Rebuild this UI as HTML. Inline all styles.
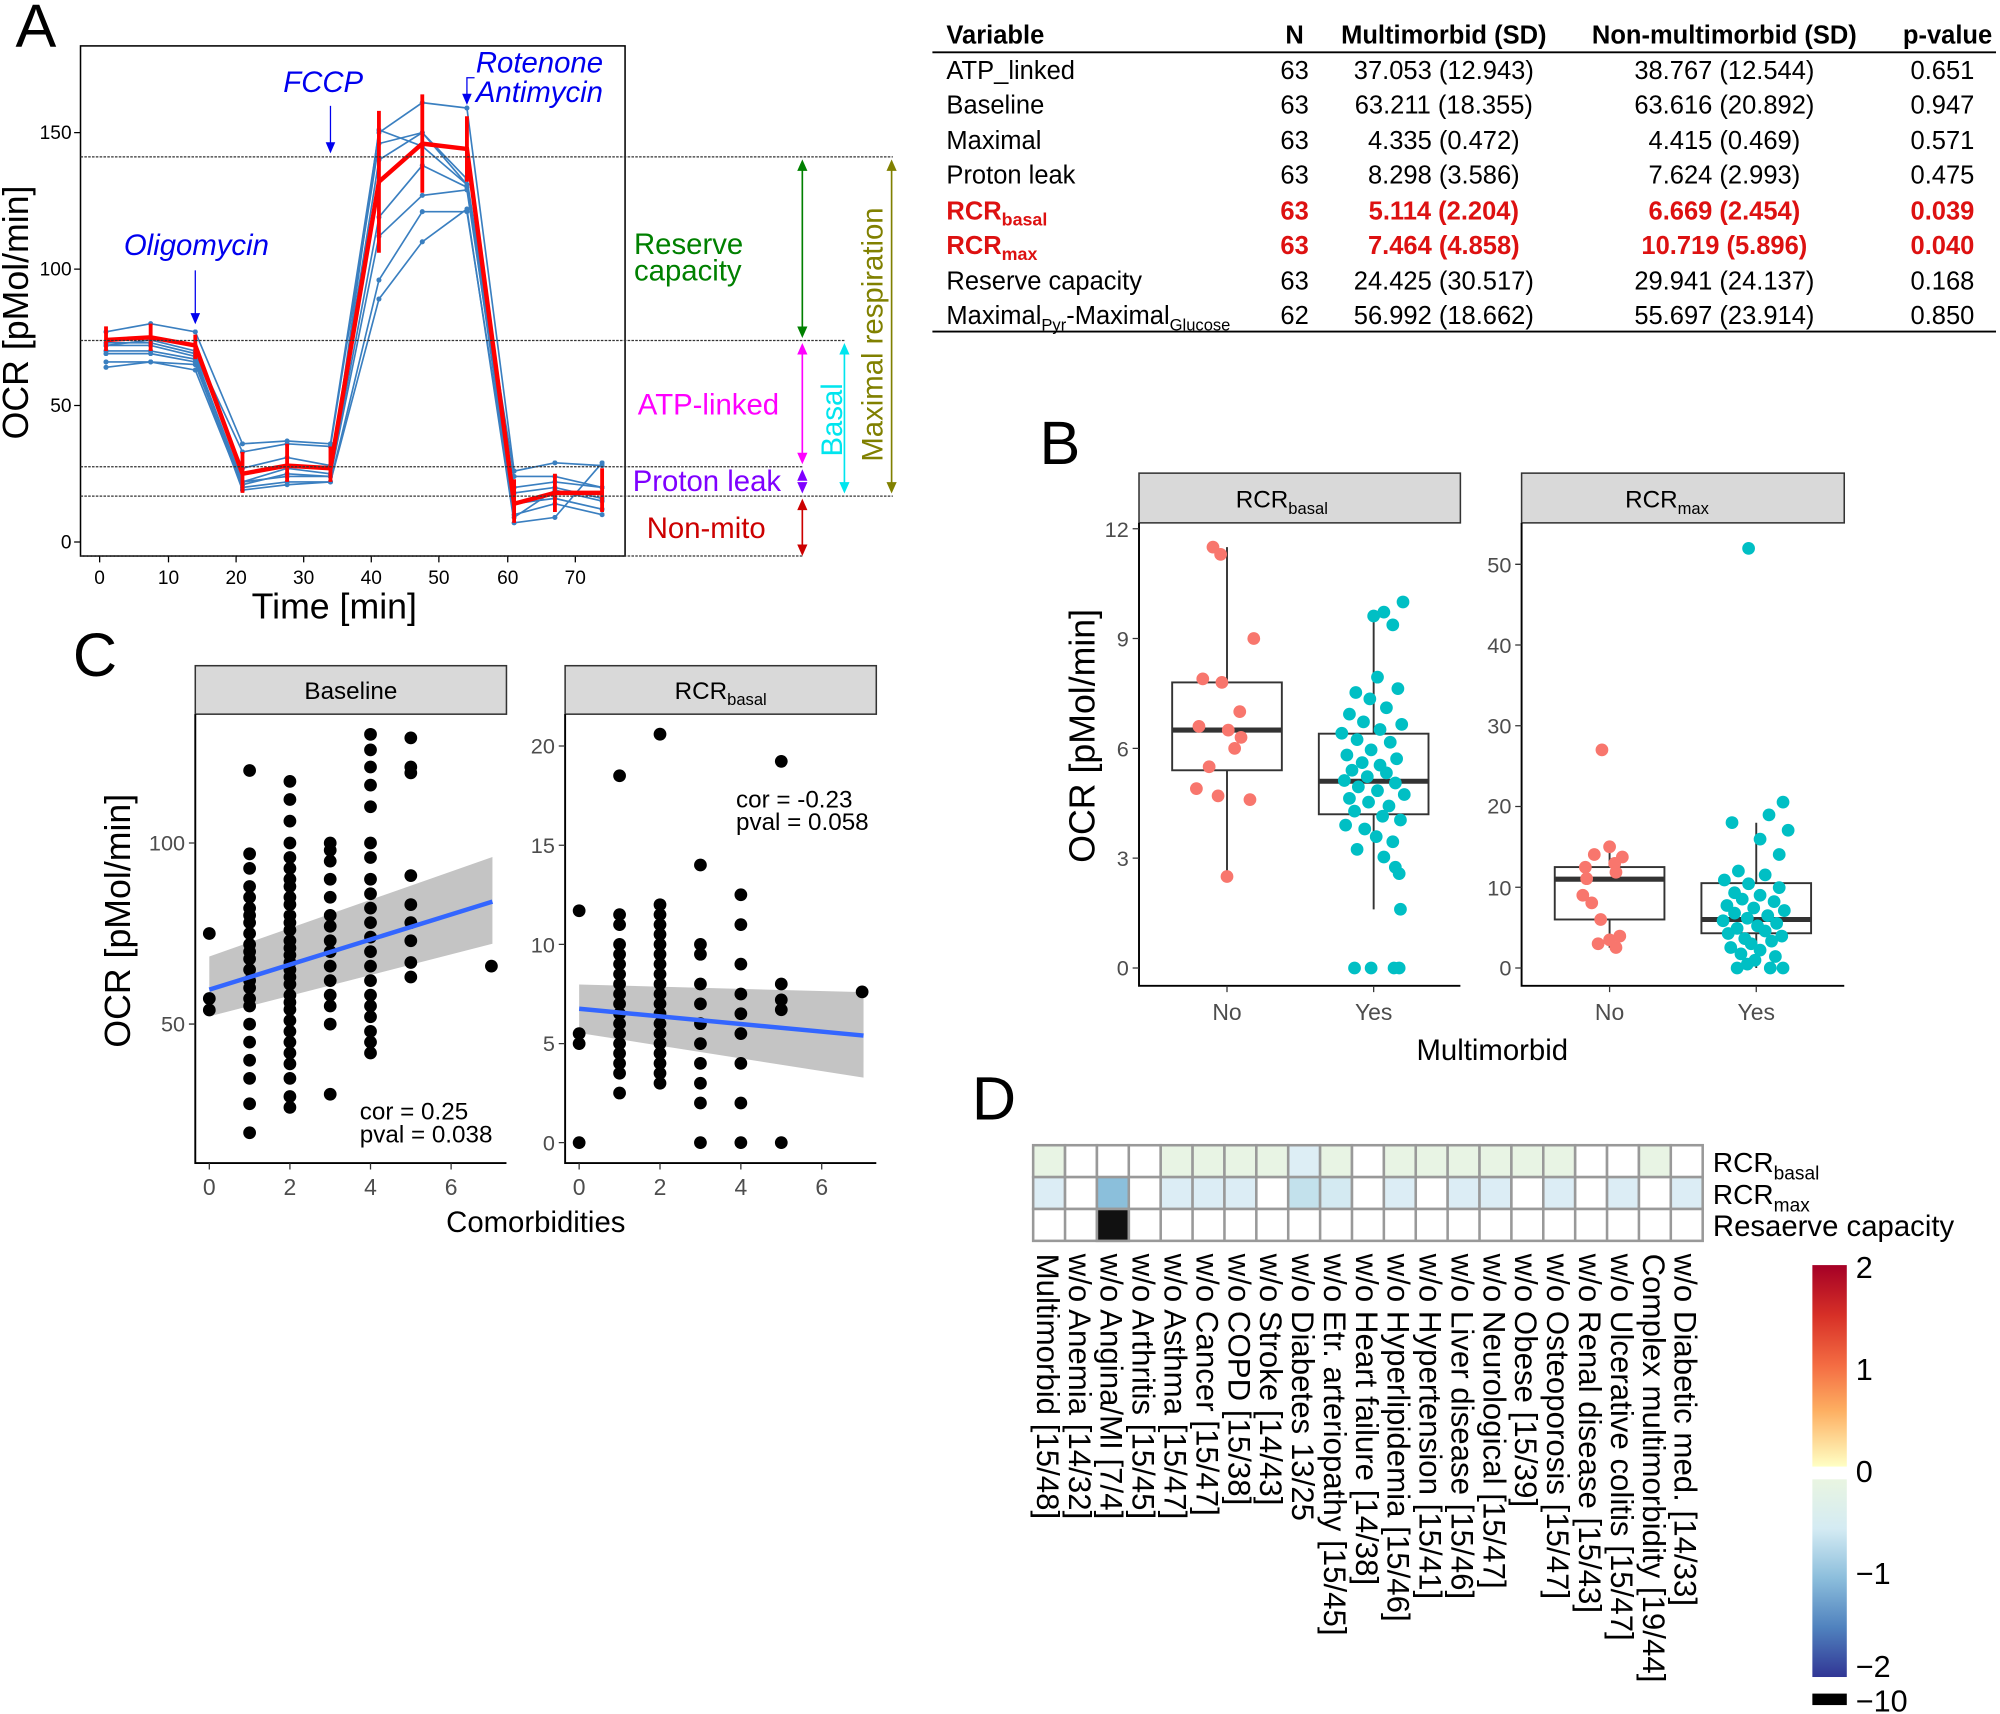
<!DOCTYPE html>
<html><head><meta charset="utf-8"><style>
html,body{margin:0;padding:0;background:#fff}
svg{display:block;font-family:"Liberation Sans","DejaVu Sans",sans-serif}
</style></head><body>
<svg width="2000" height="1714" viewBox="0 0 1568 1344" xmlns="http://www.w3.org/2000/svg">
<defs>
<marker id="dot" viewBox="0 0 4 4" refX="2" refY="2" markerWidth="4" markerHeight="4" markerUnits="userSpaceOnUse"><circle cx="2" cy="2" r="2" fill="#3a7fc0"/></marker>
<linearGradient id="gw" x1="0" y1="0" x2="0" y2="1"><stop offset="0" stop-color="#a50026"/><stop offset="0.25" stop-color="#d73027"/><stop offset="0.5" stop-color="#f46d43"/><stop offset="0.72" stop-color="#fdae61"/><stop offset="1" stop-color="#ffffc4"/></linearGradient>
<linearGradient id="gc" x1="0" y1="0" x2="0" y2="1"><stop offset="0" stop-color="#e9f5e1"/><stop offset="0.25" stop-color="#d4ebf3"/><stop offset="0.5" stop-color="#8cbedc"/><stop offset="0.75" stop-color="#5082be"/><stop offset="1" stop-color="#313695"/></linearGradient>
</defs>
<rect width="1568" height="1344" fill="#fff"/>
<!-- Panel A -->
<text x="12" y="37" font-size="48">A</text>
<g fill="none" stroke="#3a7fc0" stroke-width="1.3" marker-start="url(#dot)" marker-mid="url(#dot)" marker-end="url(#dot)">
<polyline points="83,260.2 118,253.8 153,260.2 190,348 225,345.8 259,348 297,104 331,80.5 366,84.7 403,369.4 435,362.9 472,365.1"/>
<polyline points="83,270.9 118,266.6 153,275.2 190,354.4 225,348 259,350.1 297,112.6 331,104 366,140.4 403,373.6 435,373.6 472,382.2"/>
<polyline points="83,268.8 118,268.8 153,277.3 190,367.2 225,358.7 259,365.1 297,125.4 331,104 366,144.7 403,382.2 435,377.9 472,382.2"/>
<polyline points="83,275.2 118,275.2 153,281.6 190,377.9 225,367.2 259,371.5 297,170.3 331,129.7 366,146.8 403,386.5 435,382.2 472,390.8"/>
<polyline points="83,283.8 118,283.8 153,285.9 190,380.1 225,371.5 259,373.6 297,185.3 331,153.2 366,148.9 403,395 435,390.8 472,399.3"/>
<polyline points="83,288 118,283.8 153,290.2 190,382.2 225,377.9 259,377.9 297,219.6 331,166 366,166 403,403.6 435,395 472,403.6"/>
<polyline points="83,277.3 118,277.3 153,283.8 190,384.3 225,380.1 259,377.9 297,234.5 331,189.6 366,163.9 403,410 435,405.7 472,362.9"/>
<polyline points="83,270.9 118,270.9 153,279.5 190,377.9 225,373.6 259,373.6 297,101.9 331,114.7 366,144.7 403,405.7 435,384.3 472,392.9"/>
</g>
<polyline fill="none" stroke="#ff0000" stroke-width="3.5" points="83,266.6 118,264.5 153,270.9 190,371.5 225,365.1 259,367.2 297,142.5 331,112.6 366,116.8 403,395 435,386.5 472,386.5"/>
<path stroke="#ff0000" stroke-width="3" d="M83,275.2V255.9M118,275.2V253.8M153,281.6V262.4M190,386.5V354.4M225,377.9V348M259,377.9V350.1M297,198.2V86.9M331,151.1V74M366,142.5V91.2M403,410V375.8M435,401.5V371.5M472,401.5V367.2"/>
<rect x="63" y="36" width="427" height="400" fill="none" stroke="#000" stroke-width="1.2"/>
<path stroke="#000" d="M58,425h5M58,318h5M58,211h5M58,104h5M78,436v5M132,436v5M185,436v5M238,436v5M291,436v5M344,436v5M398,436v5M451,436v5"/>
<g font-size="15" text-anchor="end">
<text x="56" y="430">0</text><text x="56" y="323">50</text><text x="56" y="216">100</text><text x="56" y="109">150</text></g>
<g font-size="15" text-anchor="middle">
<text x="78" y="458">0</text><text x="132" y="458">10</text><text x="185" y="458">20</text><text x="238" y="458">30</text><text x="291" y="458">40</text><text x="344" y="458">50</text><text x="398" y="458">60</text><text x="451" y="458">70</text></g>
<text x="262" y="485" font-size="28" text-anchor="middle">Time [min]</text>
<text transform="translate(22,245) rotate(-90)" font-size="28" text-anchor="middle">OCR [pMol/min]</text>
<g fill="#0000ee" font-style="italic" font-size="23">
<text x="97" y="200">Oligomycin</text><text x="222" y="72">FCCP</text>
<text x="373" y="57">Rotenone</text><text x="373" y="80">Antimycin</text></g>
<g stroke="#0000ee" stroke-width="1" fill="#0000ee">
<line x1="153" y1="212" x2="153" y2="248"/><path d="M150,246 L153,253 L156,246Z"/>
<line x1="259" y1="83" x2="259" y2="114"/><path d="M256,112 L259,119 L262,112Z"/>
<polyline points="372,61 366,61 366,76" fill="none"/><path d="M363,74 L366,81 L369,74Z"/></g>
<g stroke="#333" stroke-dasharray="2,1" stroke-width="1">
<line x1="63" y1="123" x2="700" y2="123"/><line x1="63" y1="267" x2="663" y2="267"/>
<line x1="63" y1="366" x2="630" y2="366"/><line x1="63" y1="389" x2="700" y2="389"/><line x1="63" y1="436" x2="630" y2="436"/></g>
<g font-size="23">
<text x="497" y="199" fill="#008000">Reserve</text><text x="497" y="220" fill="#008000">capacity</text>
<text x="500" y="325" fill="#ff00ff">ATP-linked</text>
<text x="496" y="385" fill="#7f00ff">Proton leak</text>
<text x="507" y="422" fill="#cc0000">Non-mito</text>
<text transform="translate(660,358) rotate(-90)" fill="#00e5ee">Basal</text>
<text transform="translate(692,362) rotate(-90)" fill="#808000">Maximal respiration</text></g>
<g stroke-width="1.3">
<path d="M629,129V261" stroke="#008000"/><path d="M625,134L629,125L633,134ZM625,256L629,265L633,256Z" fill="#008000"/>
<path d="M629,273V360" stroke="#ff00ff"/><path d="M625,278L629,269L633,278ZM625,355L629,364L633,355Z" fill="#ff00ff"/>
<path d="M625,377L629,368L633,377ZM625,378L629,387L633,378Z" fill="#7f00ff"/>
<path d="M629,395V430" stroke="#cc0000"/><path d="M625,400L629,391L633,400ZM625,427L629,436L633,427Z" fill="#cc0000"/>
<path d="M662,273V383" stroke="#00e5ee"/><path d="M658,278L662,269L666,278ZM658,378L662,387L666,378Z" fill="#00e5ee"/>
<path d="M699,129V383" stroke="#808000"/><path d="M695,134L699,125L703,134ZM695,378L699,387L703,378Z" fill="#808000"/>
</g>
<!-- Table -->
<g font-size="20">
<line x1="731" y1="41" x2="1565" y2="41" stroke="#000" stroke-width="1.5"/>
<line x1="731" y1="260" x2="1565" y2="260" stroke="#000" stroke-width="1.5"/>
<g font-weight="bold"><text x="742" y="34">Variable</text><text x="1015" y="34" text-anchor="middle">N</text>
<text x="1132" y="34" text-anchor="middle">Multimorbid (SD)</text><text x="1352" y="34" text-anchor="middle">Non-multimorbid (SD)</text><text x="1562" y="34" text-anchor="end">p-value</text></g>
<text x="742" y="62">ATP_linked</text><text x="742" y="89">Baseline</text><text x="742" y="117">Maximal</text><text x="742" y="144">Proton leak</text>
<text x="742" y="172" fill="#dd1111" font-weight="bold">RCR<tspan font-size="14" dy="5">basal</tspan></text>
<text x="742" y="199" fill="#dd1111" font-weight="bold">RCR<tspan font-size="14" dy="5">max</tspan></text>
<text x="742" y="227">Reserve capacity</text>
<text x="742" y="254">Maximal<tspan font-size="13" dy="5">Pyr</tspan><tspan dy="-5">-Maximal</tspan><tspan font-size="13" dy="5">Glucose</tspan></text>
<g text-anchor="middle">
<text x="1015" y="62">63</text><text x="1015" y="89">63</text><text x="1015" y="117">63</text><text x="1015" y="144">63</text><text x="1015" y="172" fill="#dd1111" font-weight="bold">63</text><text x="1015" y="199" fill="#dd1111" font-weight="bold">63</text><text x="1015" y="227">63</text><text x="1015" y="254">62</text>
<text x="1132" y="62">37.053 (12.943)</text><text x="1132" y="89">63.211 (18.355)</text><text x="1132" y="117">4.335 (0.472)</text><text x="1132" y="144">8.298 (3.586)</text><text x="1132" y="172" fill="#dd1111" font-weight="bold">5.114 (2.204)</text><text x="1132" y="199" fill="#dd1111" font-weight="bold">7.464 (4.858)</text><text x="1132" y="227">24.425 (30.517)</text><text x="1132" y="254">56.992 (18.662)</text>
<text x="1352" y="62">38.767 (12.544)</text><text x="1352" y="89">63.616 (20.892)</text><text x="1352" y="117">4.415 (0.469)</text><text x="1352" y="144">7.624 (2.993)</text><text x="1352" y="172" fill="#dd1111" font-weight="bold">6.669 (2.454)</text><text x="1352" y="199" fill="#dd1111" font-weight="bold">10.719 (5.896)</text><text x="1352" y="227">29.941 (24.137)</text><text x="1352" y="254">55.697 (23.914)</text>
</g>
<g text-anchor="end">
<text x="1548" y="62">0.651</text><text x="1548" y="89">0.947</text><text x="1548" y="117">0.571</text><text x="1548" y="144">0.475</text><text x="1548" y="172" fill="#dd1111" font-weight="bold">0.039</text><text x="1548" y="199" fill="#dd1111" font-weight="bold">0.040</text><text x="1548" y="227">0.168</text><text x="1548" y="254">0.850</text>
</g></g>
<!-- Panel B -->
<text x="815" y="364" font-size="48">B</text>
<rect x="893" y="371" width="252" height="39" fill="#d9d9d9" stroke="#333" stroke-width="1.2"/>
<rect x="1193" y="371" width="253" height="39" fill="#d9d9d9" stroke="#333" stroke-width="1.2"/>
<text x="1005" y="398" text-anchor="middle" font-size="19">RCR<tspan font-size="13" dy="5">basal</tspan></text>
<text x="1307" y="398" text-anchor="middle" font-size="19">RCR<tspan font-size="13" dy="5">max</tspan></text>
<path stroke="#000" stroke-width="1.5" fill="none" d="M893,410V773H1145M1193,410V773H1446"/>
<path stroke="#333" d="M888,759h5M888,672.9h5M888,586.8h5M888,500.7h5M888,414.6h5M1188,759h5M1188,695.7h5M1188,632.4h5M1188,569.1h5M1188,505.8h5M1188,442.5h5M962,773v5M1077,773v5M1262,773v5M1377,773v5"/>
<g font-size="17" fill="#4d4d4d" text-anchor="end">
<text x="885" y="765">0</text><text x="885" y="679">3</text><text x="885" y="593">6</text><text x="885" y="507">9</text><text x="885" y="421">12</text>
<text x="1185" y="765">0</text><text x="1185" y="702">10</text><text x="1185" y="638">20</text><text x="1185" y="575">30</text><text x="1185" y="512">40</text><text x="1185" y="449">50</text></g>
<g font-size="18" fill="#4d4d4d" text-anchor="middle"><text x="962" y="800">No</text><text x="1077" y="800">Yes</text><text x="1262" y="800">No</text><text x="1377" y="800">Yes</text></g>
<text x="1170" y="831" text-anchor="middle" font-size="23">Multimorbid</text>
<text transform="translate(858,577) rotate(-90)" text-anchor="middle" font-size="28">OCR [pMol/min]</text>
<g stroke="#333" stroke-width="1.5" fill="#fff">
<path d="M962,429V687.3M1077,480.6V713.1M1262,664V743.2M1377,645.1V759"/>
<rect x="919" y="535.1" width="86" height="68.9"/><rect x="1034" y="575.3" width="86" height="63.2"/>
<rect x="1219" y="679.9" width="86" height="41.1"/><rect x="1334" y="692.5" width="86" height="39.3"/>
<path stroke-width="4" d="M919,572.5h86M1034,612.6h86M1219,689.4h86M1334,721h86"/></g>
<path stroke="#f8766d" stroke-width="10" stroke-linecap="round" d="M951,429h0M957,434.7h0M983,500.7h0M943,532.3h0M958,535.1h0M972,558h0M940,569.6h0M963,572.5h0M973,578.2h0M968,586.8h0M948,601.2h0M938,618.4h0M955,624.1h0M980,627h0M962,687.3h0
M1256,588h0M1262,664h0M1250,670h0M1272,672h0M1266,677h0M1243,680h0M1244,689h0M1267,684h0M1241,702h0M1248,708h0M1255,721h0M1270,734h0M1262,737h0M1253,740h0M1267,743h0"/>
<path stroke="#00bfc4" stroke-width="10" stroke-linecap="round" d="M1100,472h0M1085,480h0M1077,483h0M1092,490h0M1080,531h0M1096,540h0M1063,543h0M1074,548h0M1087,555h0M1058,560h0M1069,566h0M1099,568h0M1082,572h0M1052,575h0M1064,580h0M1090,582h0M1075,588h0M1056,592h0M1095,595h0M1068,598h0M1082,600h0M1060,604h0M1087,606h0M1072,609h0M1054,612h0M1094,614h0M1065,617h0M1080,620h0M1101,623h0M1058,626h0M1073,629h0M1089,632h0M1062,636h0M1084,640h0M1098,643h0M1055,647h0M1070,650h0M1079,656h0M1092,660h0M1064,666h0M1085,672h0M1094,680h0M1097,685h0M1098,713h0M1062,759h0M1075,759h0M1093,759h0M1097,759h0
M1371,430h0M1398,629h0M1387,639h0M1358,645h0M1402,651h0M1380,658h0M1395,670h0M1363,683h0M1384,686h0M1352,690h0M1371,693h0M1395,696h0M1360,700h0M1380,702h0M1366,705h0M1391,707h0M1354,710h0M1375,712h0M1399,714h0M1360,716h0M1386,718h0M1370,720h0M1351,722h0M1393,724h0M1378,726h0M1362,728h0M1384,730h0M1355,732h0M1397,734h0M1368,736h0M1389,738h0M1373,740h0M1357,743h0M1380,745h0M1365,748h0M1392,750h0M1376,753h0M1362,759h0M1388,759h0M1398,759h0M1370,756h0"/>
<!-- Panel C -->
<text x="57" y="530" font-size="48">C</text>
<rect x="153" y="522" width="244" height="38" fill="#d9d9d9" stroke="#333" stroke-width="1.2"/>
<rect x="443" y="522" width="244" height="38" fill="#d9d9d9" stroke="#333" stroke-width="1.2"/>
<text x="275" y="548" text-anchor="middle" font-size="19">Baseline</text>
<text x="565" y="548" text-anchor="middle" font-size="19">RCR<tspan font-size="13" dy="5">basal</tspan></text>
<path d="M164,750 L386,672 L386,740 L164,797Z" fill="#c4c4c4"/>
<path d="M454,772 L677,778 L677,845 L454,810Z" fill="#c4c4c4"/>
<path stroke="#000" stroke-width="10" stroke-linecap="round" d="M164,732h0M164,783h0M164,792h0
M195.6,604.2h0M195.6,669.5h0M195.6,680.9h0M195.6,695.1h0M195.6,703.6h0M195.6,712.1h0M195.6,717.8h0M195.6,723.5h0M195.6,732h0M195.6,740.5h0M195.6,746.2h0M195.6,751.9h0M195.6,760.4h0M195.6,768.9h0M195.6,774.6h0M195.6,783.1h0M195.6,788.8h0M195.6,803h0M195.6,817.2h0M195.6,831.4h0M195.6,845.6h0M195.6,865.5h0M195.6,888.2h0
M227.2,612.7h0M227.2,626.9h0M227.2,643.9h0M227.2,661h0M227.2,672.4h0M227.2,680.9h0M227.2,689.4h0M227.2,695.1h0M227.2,703.6h0M227.2,709.3h0M227.2,717.8h0M227.2,723.5h0M227.2,729.2h0M227.2,737.7h0M227.2,743.4h0M227.2,749h0M227.2,754.7h0M227.2,760.4h0M227.2,766.1h0M227.2,771.8h0M227.2,780.3h0M227.2,786h0M227.2,791.6h0M227.2,800.2h0M227.2,808.7h0M227.2,817.2h0M227.2,825.7h0M227.2,834.2h0M227.2,845.6h0M227.2,859.8h0M227.2,868.3h0
M258.8,661h0M258.8,666.7h0M258.8,675.2h0M258.8,689.4h0M258.8,703.6h0M258.8,717.8h0M258.8,726.3h0M258.8,737.7h0M258.8,746.2h0M258.8,757.6h0M258.8,768.9h0M258.8,780.3h0M258.8,788.8h0M258.8,803h0M258.8,858h0
M290.4,575.8h0M290.4,588h0M290.4,601.4h0M290.4,615.6h0M290.4,632.6h0M290.4,661h0M290.4,672.4h0M290.4,689.4h0M290.4,700.8h0M290.4,712.1h0M290.4,723.5h0M290.4,734.8h0M290.4,746.2h0M290.4,757.6h0M290.4,768.9h0M290.4,780.3h0M290.4,788.8h0M290.4,797.3h0M290.4,808.7h0M290.4,817.2h0M290.4,825.7h0
M322,578.6h0M322,601.4h0M322,606h0M322,686.6h0M322,709.3h0M322,723.5h0M322,737.7h0M322,754.7h0M322,766.1h0M385.2,757.6h0
M454,714.1h0M454,810.5h0M454,818.3h0M454,896h0
M485.7,608.3h0M485.7,717.2h0M485.7,725h0M485.7,740.5h0M485.7,748.3h0M485.7,756h0M485.7,763.8h0M485.7,771.6h0M485.7,779.4h0M485.7,787.2h0M485.7,794.9h0M485.7,802.7h0M485.7,810.5h0M485.7,818.3h0M485.7,826h0M485.7,833.8h0M485.7,841.6h0M485.7,857.1h0
M517.4,575.7h0M517.4,709.4h0M517.4,717.2h0M517.4,725h0M517.4,732.7h0M517.4,740.5h0M517.4,748.3h0M517.4,756h0M517.4,763.8h0M517.4,771.6h0M517.4,779.4h0M517.4,787.2h0M517.4,794.9h0M517.4,802.7h0M517.4,810.5h0M517.4,818.3h0M517.4,826h0M517.4,833.8h0M517.4,841.6h0M517.4,849.4h0
M549.1,678.3h0M549.1,740.5h0M549.1,748.3h0M549.1,771.6h0M549.1,787.2h0M549.1,802.7h0M549.1,818.3h0M549.1,833.8h0M549.1,849.4h0M549.1,864.9h0M549.1,896h0
M580.8,701.6h0M580.8,725h0M580.8,756h0M580.8,779.4h0M580.8,794.9h0M580.8,810.5h0M580.8,833.8h0M580.8,864.9h0M580.8,896h0
M612.5,597h0M612.5,771.6h0M612.5,784h0M612.5,791.8h0M612.5,896h0M675.9,777.8h0"/>
<line x1="164" y1="776" x2="386" y2="707" stroke="#3366ff" stroke-width="3.5"/>
<line x1="454" y1="791" x2="677" y2="812" stroke="#3366ff" stroke-width="3.5"/>
<path stroke="#000" stroke-width="1.5" fill="none" d="M153,560V912H397M443,560V912H687"/>
<path stroke="#333" d="M148,803h5M148,661h5M438,896h5M438,818.3h5M438,740.5h5M438,662.8h5M438,585h5M164,912v5M227.2,912v5M290.4,912v5M353.6,912v5M454,912v5M517.4,912v5M580.8,912v5M644.2,912v5"/>
<g font-size="17" fill="#4d4d4d" text-anchor="end">
<text x="145" y="809">50</text><text x="145" y="667">100</text>
<text x="435" y="902">0</text><text x="435" y="824">5</text><text x="435" y="747">10</text><text x="435" y="669">15</text><text x="435" y="591">20</text></g>
<g font-size="18" fill="#4d4d4d" text-anchor="middle">
<text x="164" y="937">0</text><text x="227.2" y="937">2</text><text x="290.4" y="937">4</text><text x="353.6" y="937">6</text>
<text x="454" y="937">0</text><text x="517.4" y="937">2</text><text x="580.8" y="937">4</text><text x="644.2" y="937">6</text></g>
<g font-size="19"><text x="282" y="878">cor = 0.25</text><text x="282" y="896">pval = 0.038</text>
<text x="577" y="633">cor = -0.23</text><text x="577" y="651">pval = 0.058</text></g>
<text x="420" y="966" text-anchor="middle" font-size="23">Comorbidities</text>
<text transform="translate(102,722) rotate(-90)" text-anchor="middle" font-size="28">OCR [pMol/min]</text>
<!-- Panel D -->
<text x="762" y="878" font-size="48">D</text>
<g stroke="#999" stroke-width="2">
<rect x="810" y="898" width="25" height="25" fill="#e8f4e4"/><rect x="835" y="898" width="25" height="25" fill="#fff"/><rect x="860" y="898" width="25" height="25" fill="#fff"/><rect x="885" y="898" width="25" height="25" fill="#fff"/><rect x="910" y="898" width="25" height="25" fill="#e8f4e4"/><rect x="935" y="898" width="25" height="25" fill="#e8f4e4"/><rect x="960" y="898" width="25" height="25" fill="#e8f4e4"/><rect x="985" y="898" width="25" height="25" fill="#e8f4e4"/><rect x="1010" y="898" width="25" height="25" fill="#ddeef5"/><rect x="1035" y="898" width="25" height="25" fill="#e8f4e4"/><rect x="1060" y="898" width="25" height="25" fill="#fff"/><rect x="1085" y="898" width="25" height="25" fill="#e8f4e4"/><rect x="1110" y="898" width="25" height="25" fill="#e8f4e4"/><rect x="1135" y="898" width="25" height="25" fill="#e8f4e4"/><rect x="1160" y="898" width="25" height="25" fill="#e8f4e4"/><rect x="1185" y="898" width="25" height="25" fill="#e8f4e4"/><rect x="1210" y="898" width="25" height="25" fill="#e8f4e4"/><rect x="1235" y="898" width="25" height="25" fill="#fff"/><rect x="1260" y="898" width="25" height="25" fill="#fff"/><rect x="1285" y="898" width="25" height="25" fill="#e8f4e4"/><rect x="1310" y="898" width="25" height="25" fill="#fff"/>
<rect x="810" y="923" width="25" height="25" fill="#dcedf5"/><rect x="835" y="923" width="25" height="25" fill="#fff"/><rect x="860" y="923" width="25" height="25" fill="#8bbfdb"/><rect x="885" y="923" width="25" height="25" fill="#fff"/><rect x="910" y="923" width="25" height="25" fill="#dcedf5"/><rect x="935" y="923" width="25" height="25" fill="#dcedf5"/><rect x="960" y="923" width="25" height="25" fill="#dcedf5"/><rect x="985" y="923" width="25" height="25" fill="#fff"/><rect x="1010" y="923" width="25" height="25" fill="#c3e1ec"/><rect x="1035" y="923" width="25" height="25" fill="#d4eaf2"/><rect x="1060" y="923" width="25" height="25" fill="#fff"/><rect x="1085" y="923" width="25" height="25" fill="#dcedf5"/><rect x="1110" y="923" width="25" height="25" fill="#fff"/><rect x="1135" y="923" width="25" height="25" fill="#dcedf5"/><rect x="1160" y="923" width="25" height="25" fill="#dcedf5"/><rect x="1185" y="923" width="25" height="25" fill="#fff"/><rect x="1210" y="923" width="25" height="25" fill="#dcedf5"/><rect x="1235" y="923" width="25" height="25" fill="#fff"/><rect x="1260" y="923" width="25" height="25" fill="#dcedf5"/><rect x="1285" y="923" width="25" height="25" fill="#fff"/><rect x="1310" y="923" width="25" height="25" fill="#dcedf5"/>
<rect x="810" y="948" width="525" height="25" fill="#fff"/>
<path d="M835,948v25M860,948v25M885,948v25M910,948v25M935,948v25M960,948v25M985,948v25M1010,948v25M1035,948v25M1060,948v25M1085,948v25M1110,948v25M1135,948v25M1160,948v25M1185,948v25M1210,948v25M1235,948v25M1260,948v25M1285,948v25M1310,948v25"/>
<rect x="860" y="948" width="25" height="25" fill="#111"/>
</g>
<g font-size="22">
<text x="1343" y="919">RCR<tspan font-size="15" dy="6">basal</tspan></text>
<text x="1343" y="944">RCR<tspan font-size="15" dy="6">max</tspan></text>
<text x="1343" y="969" font-size="23">Resaerve capacity</text></g>
<g font-size="24.5">
<text transform="translate(813,983) rotate(90)">Multimorbid [15/48]</text>
<text transform="translate(838,983) rotate(90)">w/o Anemia [14/32]</text>
<text transform="translate(863,983) rotate(90)">w/o Angina/MI [7/4]</text>
<text transform="translate(888,983) rotate(90)">w/o Arthritis [15/45]</text>
<text transform="translate(913,983) rotate(90)">w/o Asthma [15/47]</text>
<text transform="translate(938,983) rotate(90)">w/o Cancer [15/47]</text>
<text transform="translate(963,983) rotate(90)">w/o COPD [15/38]</text>
<text transform="translate(988,983) rotate(90)">w/o Stroke [14/43]</text>
<text transform="translate(1013,983) rotate(90)">w/o Diabetes 13/25</text>
<text transform="translate(1038,983) rotate(90)">w/o Etr. arteriopathy [15/45]</text>
<text transform="translate(1063,983) rotate(90)">w/o Heart failure [14/38]</text>
<text transform="translate(1088,983) rotate(90)">w/o Hyperlipidemia [15/46]</text>
<text transform="translate(1113,983) rotate(90)">w/o Hypertension [15/41]</text>
<text transform="translate(1138,983) rotate(90)">w/o Liver disease [15/46]</text>
<text transform="translate(1163,983) rotate(90)">w/o Neurological [15/47]</text>
<text transform="translate(1188,983) rotate(90)">w/o Obese [15/39]</text>
<text transform="translate(1213,983) rotate(90)">w/o Osteoporosis [15/47]</text>
<text transform="translate(1238,983) rotate(90)">w/o Renal disease [15/43]</text>
<text transform="translate(1263,983) rotate(90)">w/o Ulcerative colitis [15/47]</text>
<text transform="translate(1288,983) rotate(90)">Complex multimorbidity [19/44]</text>
<text transform="translate(1313,983) rotate(90)">w/o Diabetic med. [14/33]</text>
</g>
<rect x="1421" y="992" width="27" height="158" fill="url(#gw)"/>
<rect x="1421" y="1160" width="27" height="155" fill="url(#gc)"/>
<rect x="1421" y="1328" width="27" height="9" fill="#000"/>
<g font-size="24">
<text x="1455" y="1002">2</text><text x="1455" y="1082">1</text><text x="1455" y="1162">0</text><text x="1455" y="1242">−1</text><text x="1455" y="1315">−2</text><text x="1455" y="1342">−10</text></g>
</svg>
</body></html>
